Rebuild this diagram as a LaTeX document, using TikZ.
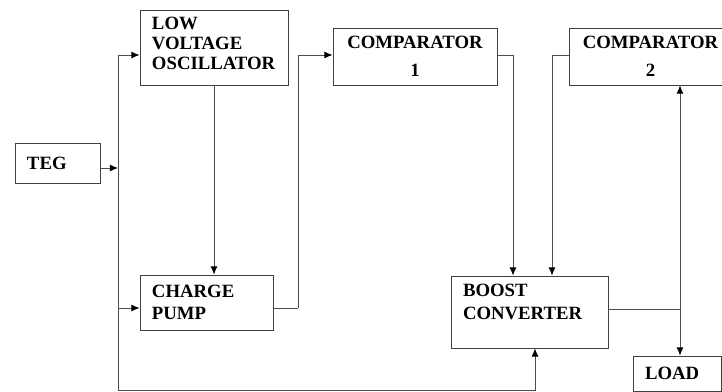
\documentclass[tikz,border=0pt]{standalone}
\usepackage{fontspec}
\setmainfont{Liberation Serif}
\usetikzlibrary{arrows.meta}
\usetikzlibrary{positioning}

\tikzset{
  blockbox/.style={draw=black!75, line width=0.75pt, inner xsep=0.36cm, inner ysep=0pt,
    align=left, font=\bfseries\fontsize{16}{17}\selectfont},
  wire/.style={draw=black!70, line width=0.75pt},
  feed/.style={wire, -{Latex[length=7pt,width=6pt,color=black]}}
}

\begin{document}
\begin{tikzpicture}[x=0.03cm,y=-0.03cm]
    \useasboundingbox (0,0) rectangle (722,392);
    % blocks
    \node[blockbox, minimum width=2.55cm, minimum height=1.2cm, text width=1.83cm] (teg) at (57.5,163) {TEG};
    \node[blockbox, minimum width=4.44cm, minimum height=2.25cm, text width=3.72cm,
          text height=16.6pt, text depth=47.2pt] (osc) at (214,47.5) {LOW\\VOLTAGE\\OSCILLATOR};
    \node[blockbox, minimum width=3.99cm, minimum height=1.65cm, text width=3.27cm] (pump) at (206.5,302.5) {CHARGE\\[2pt]PUMP};
    \node[blockbox, minimum width=4.92cm, minimum height=1.71cm, text width=4.2cm, align=center] (compa) at (415,56.5) {COMPARATOR\\[7pt]1};
    \node[blockbox, minimum width=4.89cm, minimum height=1.71cm, text width=4.17cm, align=center] (compb) at (650.5,56.5) {COMPARATOR\\[7pt]2};
    \node[blockbox, minimum width=4.71cm, minimum height=2.16cm, text width=3.99cm,
          text height=17.4pt, text depth=43.8pt] (boost) at (529.5,312) {BOOST\\[3pt]CONVERTER};
    \node[blockbox, minimum width=2.64cm, minimum height=1.05cm, text width=1.92cm] (load) at (677,373.5) {LOAD};

    % junction points
    \coordinate (bus) at (118,168);
    \coordinate (bustop) at (118,55);
    \coordinate (busbot) at (118,390.5);
    \coordinate (riseA) at (298,308);
    \coordinate (dropA) at (513,55);
    \coordinate (dropB) at (552,55);
    \coordinate (tap) at (680,309);

    % TEG feed bus
    \draw[feed] (teg.east |- bus) -- (bus);
    \draw[wire] (bustop) -- (busbot);
    \draw[feed] (bustop) -- (osc.west |- bustop);
    \draw[feed] (118,308) -- (pump.west |- riseA);
    \draw[feed] (busbot) -| (boost.south -| 535,0);

    % oscillator to pump to comparator 1
    \draw[feed] (osc.south) -- (pump.north -| osc.south);
    \draw[wire] (pump.east |- riseA) -- (riseA);
    \draw[feed] (riseA) |- (compa.west |- bustop);

    % comparators to boost
    \draw[feed] (compa.east |- dropA) -| (boost.north -| dropA);
    \draw[feed] (compb.west |- dropB) -| (boost.north -| dropB);

    % boost output
    \draw[wire] (boost.east |- tap) -- (tap);
    \draw[feed] (tap) -- (compb.south -| tap);
    \draw[feed] (tap) -- (load.north -| tap);
\end{tikzpicture}
\end{document}
